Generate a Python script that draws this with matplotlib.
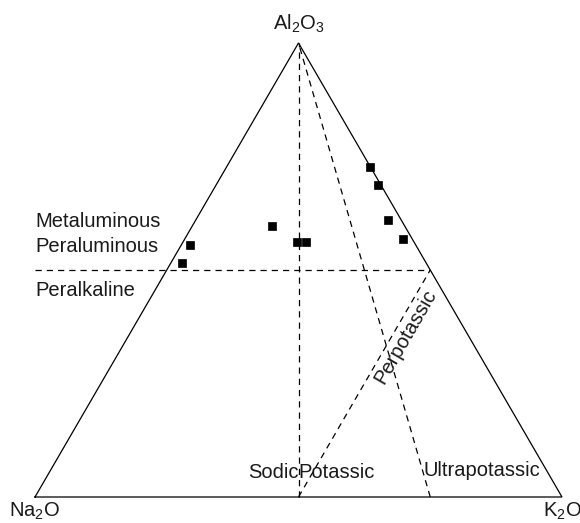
import numpy as np
import matplotlib
matplotlib.use("Agg")
import matplotlib.pyplot as plt

plt.rcParams['font.family'] = ['Liberation Sans', 'DejaVu Sans']
plt.rcParams['mathtext.fontset'] = 'custom'
plt.rcParams['mathtext.rm'] = 'Liberation Sans'

# Sample compositions (relative proportions, %)
na2o = [42.8, 46.4, 25.2, 22.2, 20.5, 0.1, 0.6, 2.5, 1.8]
k2o = [1.7, 2.1, 15.1, 21.6, 23.3, 27.2, 30.7, 36.5, 41.4]
al2o3 = [55.5, 51.5, 59.7, 56.2, 56.2, 72.7, 68.7, 61.0, 56.8]

H = np.sqrt(3) / 2


def tern(na, k, al):
    na, k, al = np.asarray(na, float), np.asarray(k, float), np.asarray(al, float)
    s = na + k + al
    k, al = k / s, al / s
    return k + al / 2, al * H


def py2y(p):
    return (497 - p) / 454 * H


def px2x(p):
    return (p - 35) / 527


fig = plt.figure(figsize=(5.80, 5.23), dpi=100)
ax = fig.add_axes([0, 0, 1, 1])
ax.set_xlim(-35 / 527, 545 / 527)
ax.set_ylim(-26 / 454 * H, 497 / 454 * H)
ax.axis('off')

lw = 0.9
dash = (0, (5, 4))
# triangle
tx, ty = tern([1, 0, 0, 1], [0, 1, 0, 0], [0, 0, 1, 0])
ax.plot(tx, ty, color='black', lw=lw, solid_joinstyle='miter')

# Al = Na + K line (extends to the left edge of the Na2O corner)
x1, y1 = tern([0], [0.5], [0.5])
ax.plot([0, x1[0]], [0.5 * H, y1[0]], color='black', lw=lw, linestyle=dash)
# Na = K line
x, y = tern([0.5, 0], [0.5, 0], [0, 1])
ax.plot(x, y, color='black', lw=lw, linestyle=dash)
# K = 3 Na line
x, y = tern([0.25, 0], [0.75, 0], [0, 1])
ax.plot(x, y, color='black', lw=lw, linestyle=dash)
# K = Na + Al line
x, y = tern([0.5, 0], [0.5, 0.5], [0, 0.5])
ax.plot(x, y, color='black', lw=lw, linestyle=dash)

# data
px, py = tern(na2o, k2o, al2o3)
ax.plot(px, py, linestyle='none', marker='s', ms=6.4, mew=0.5, color='black')

fs = 14.5
tc = '#1a1a1a'
ax.text(0.5, py2y(24), r'Al$_2$O$_3$', ha='center', va='center', fontsize=fs, color=tc)
ax.text(0.0, py2y(511), r'Na$_2$O', ha='center', va='center', fontsize=fs, color=tc)
ax.text(1.0, py2y(511), r'K$_2$O', ha='center', va='center', fontsize=fs, color=tc)

ax.text(0.0, py2y(222), 'Metaluminous', ha='left', va='center', fontsize=fs, color=tc)
ax.text(0.0, py2y(247), 'Peraluminous', ha='left', va='center', fontsize=fs, color=tc)
ax.text(0.0, py2y(290), 'Peralkaline', ha='left', va='center', fontsize=fs, color=tc)
ax.text(0.5, py2y(472), 'Sodic', ha='right', va='center', fontsize=fs, color=tc)
ax.text(0.5, py2y(472), 'Potassic', ha='left', va='center', fontsize=fs, color=tc)
ax.text(px2x(482), py2y(470), 'Ultrapotassic', ha='center', va='center', fontsize=fs, color=tc)
ax.text(px2x(406), py2y(337), 'Perpotassic', ha='center', va='center',
        fontsize=fs, rotation=60, color=tc)

fig.savefig('out.png', dpi=100)
